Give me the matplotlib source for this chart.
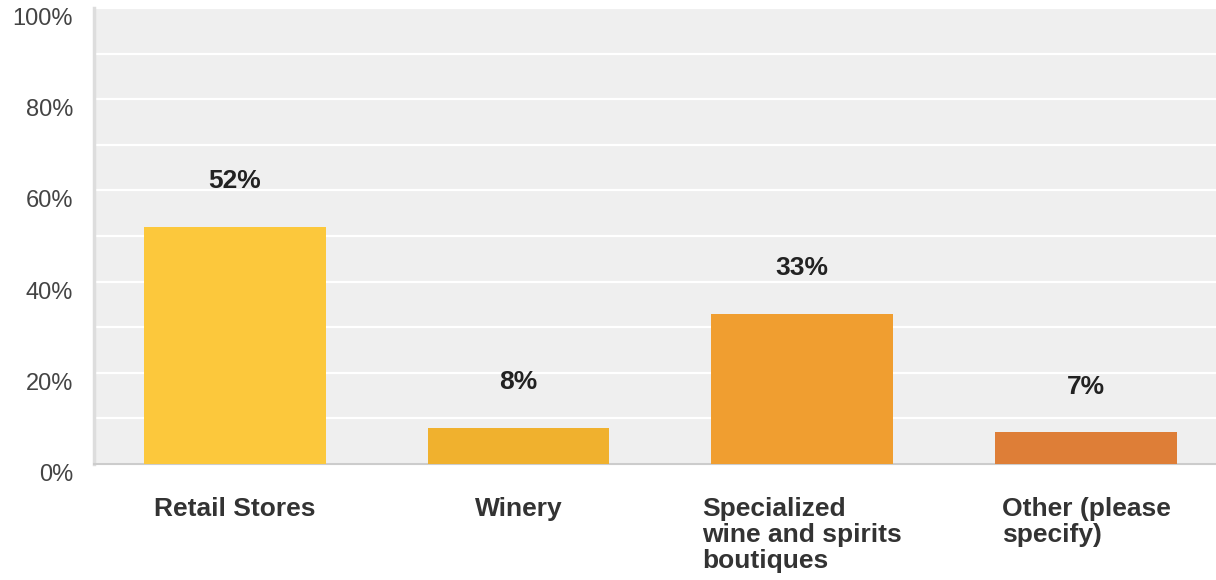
"""Bar chart: where respondents buy wine."""
import numpy as np
import matplotlib.pyplot as plt
import matplotlib as mpl
from matplotlib.ticker import MultipleLocator, FuncFormatter

mpl.rcParams['font.family'] = ['Liberation Sans', 'DejaVu Sans']

categories = ['Retail Stores', 'Winery', 'Specialized\nwine and spirits\nboutiques',
              'Other (please\nspecify)']
values = [52, 8, 33, 7]
colors = ['#FCC83C', '#F0B12E', '#F09E30', '#DE7E37']

fig = plt.figure(figsize=(12.16, 5.8), dpi=100)
ax = fig.add_axes([0.0773, 0.2, 0.9227, 0.786])
ax.set_facecolor('#EFEFEF')

x = np.arange(len(categories))
ax.bar(x, values, width=0.64, color=colors, zorder=3)

for xi, v in zip(x, values):
    ax.text(xi, v + 10, f'{v}%', ha='center', va='center', fontsize=19,
            fontweight='bold', color='#222222', zorder=4)

ax.set_xlim(-0.496, 3.458)
ax.set_ylim(0, 100)
ax.yaxis.set_major_locator(MultipleLocator(20))
ax.yaxis.set_minor_locator(MultipleLocator(10))
ax.yaxis.set_major_formatter(FuncFormatter(lambda v, p: f'{v:.0f}%'))
ax.grid(axis='y', which='both', color='white', linewidth=1.6, zorder=1)
ax.tick_params(axis='y', which='both', length=0, pad=15, labelsize=17, labelcolor='#444444')
for lbl in ax.get_yticklabels():
    lbl.set_va('top')

ax.set_xticks(x)
ax.set_xticklabels(categories, fontsize=19, fontweight='bold', color='#333333',
                   linespacing=1.1, multialignment='left', va='top')
ax.tick_params(axis='x', length=0, pad=24)

for side in ['top', 'right']:
    ax.spines[side].set_visible(False)
ax.spines['left'].set_color('#DDDDDD')
ax.spines['left'].set_linewidth(2.5)
ax.spines['bottom'].set_color('#CCCCCC')
ax.spines['bottom'].set_linewidth(1.5)

plt.savefig('out.png', dpi=100)
